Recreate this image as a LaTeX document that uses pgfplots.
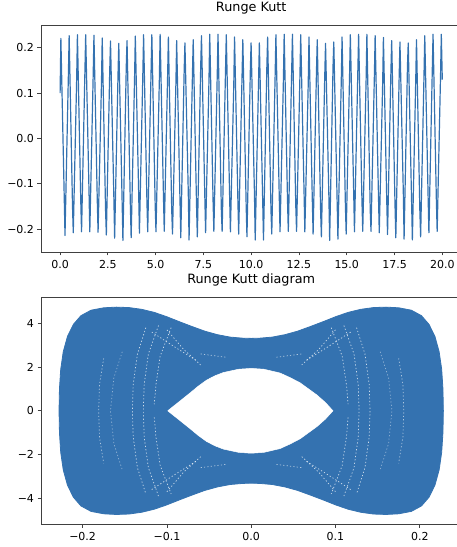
\documentclass[border=0pt]{standalone}
\usepackage{fontspec}
\setmainfont{DejaVu Sans}
\usepackage{pgfplots}
\pgfplotsset{compat=1.18}
\definecolor{mplblue}{RGB}{52,114,176}
\pgfplotsset{
  rk/.style={
    scale only axis,
    width=420.4pt,
    height=227pt,
    anchor=south west,
    axis line style={black!75, line width=0.8pt},
    tick align=outside,
    tick pos=left,
    major tick length=3.5pt,
    tick style={black!75, line width=0.8pt},
    tick label style={font=\fontsize{11}{13}\selectfont},
    xticklabel style={yshift=-1pt},
    title style={font=\fontsize{12.8}{15}\selectfont, inner sep=0pt, yshift=5pt},
  },
  speck/.style={white, line width=0.7pt, opacity=0.75, dash pattern=on 1.2pt off 2.2pt},
}
\begin{document}
\begin{tikzpicture}
\useasboundingbox (0,0) rectangle (457pt,547pt);

% time series
\begin{axis}[rk,
  at={(41pt,295pt)},
  title={Runge Kutt},
  xmin=-1, xmax=21, ymin=-0.2505, ymax=0.2505,
  xtick={0,2.5,5,7.5,10,12.5,15,17.5,20},
  xticklabels={0.0,2.5,5.0,7.5,10.0,12.5,15.0,17.5,20.0},
  ytick={-0.2,-0.1,0,0.1,0.2},
  yticklabels={−0.2,−0.1,0.0,0.1,0.2},
]
\addplot[mplblue, line width=1.2pt, line join=round] coordinates {
(0.000,0.100)
(0.040,0.221) (0.216,-0.13) (0.256,-0.214) (0.433,0.14)
(0.473,0.227) (0.649,-0.15) (0.689,-0.208) (0.866,0.13)
(0.906,0.229) (1.082,-0.14) (1.122,-0.206) (1.299,0.15)
(1.338,0.229) (1.514,-0.12) (1.554,-0.206) (1.731,0.14)
(1.771,0.228) (1.947,-0.14) (1.987,-0.207) (2.164,0.12)
(2.204,0.222) (2.380,-0.16) (2.420,-0.213) (2.597,0.15)
(2.637,0.215) (2.813,-0.13) (2.853,-0.220) (3.030,0.14)
(3.070,0.210) (3.246,-0.14) (3.286,-0.225) (3.463,0.16)
(3.502,0.216) (3.678,-0.15) (3.718,-0.219) (3.895,0.13)
(3.935,0.226) (4.111,-0.12) (4.151,-0.209) (4.328,0.14)
(4.368,0.229) (4.544,-0.14) (4.584,-0.206) (4.761,0.15)
(4.801,0.229) (4.977,-0.15) (5.017,-0.206) (5.194,0.13)
(5.234,0.230) (5.410,-0.13) (5.450,-0.205) (5.627,0.14)
(5.666,0.224) (5.842,-0.16) (5.882,-0.211) (6.059,0.12)
(6.099,0.216) (6.275,-0.14) (6.315,-0.219) (6.492,0.15)
(6.532,0.211) (6.708,-0.12) (6.748,-0.224) (6.925,0.14)
(6.965,0.218) (7.141,-0.15) (7.181,-0.217) (7.358,0.16)
(7.398,0.227) (7.574,-0.13) (7.614,-0.208) (7.791,0.13)
(7.830,0.230) (8.006,-0.14) (8.046,-0.205) (8.223,0.14)
(8.263,0.230) (8.439,-0.16) (8.479,-0.205) (8.656,0.15)
(8.696,0.229) (8.872,-0.13) (8.912,-0.206) (9.089,0.12)
(9.129,0.224) (9.305,-0.14) (9.345,-0.211) (9.522,0.14)
(9.562,0.218) (9.738,-0.15) (9.778,-0.217) (9.955,0.15)
(9.994,0.211) (10.170,-0.12) (10.210,-0.224) (10.387,0.13)
(10.427,0.211) (10.603,-0.14) (10.643,-0.224) (10.820,0.16)
(10.860,0.224) (11.036,-0.16) (11.076,-0.211) (11.253,0.14)
(11.293,0.229) (11.469,-0.13) (11.509,-0.206) (11.686,0.13)
(11.726,0.230) (11.902,-0.14) (11.942,-0.205) (12.119,0.15)
(12.158,0.230) (12.334,-0.15) (12.374,-0.205) (12.551,0.14)
(12.591,0.229) (12.767,-0.12) (12.807,-0.206) (12.984,0.12)
(13.024,0.224) (13.200,-0.14) (13.240,-0.211) (13.417,0.15)
(13.457,0.218) (13.633,-0.16) (13.673,-0.217) (13.850,0.14)
(13.890,0.210) (14.066,-0.13) (14.106,-0.225) (14.283,0.16)
(14.322,0.213) (14.498,-0.14) (14.538,-0.222) (14.715,0.13)
(14.755,0.224) (14.931,-0.15) (14.971,-0.211) (15.148,0.14)
(15.188,0.229) (15.364,-0.12) (15.404,-0.206) (15.581,0.15)
(15.621,0.230) (15.797,-0.14) (15.837,-0.205) (16.014,0.13)
(16.054,0.230) (16.230,-0.16) (16.270,-0.205) (16.447,0.14)
(16.486,0.227) (16.662,-0.13) (16.702,-0.208) (16.879,0.12)
(16.919,0.223) (17.095,-0.14) (17.135,-0.212) (17.312,0.15)
(17.352,0.216) (17.528,-0.15) (17.568,-0.219) (17.745,0.14)
(17.785,0.213) (17.961,-0.12) (18.001,-0.222) (18.178,0.16)
(18.218,0.211) (18.394,-0.14) (18.434,-0.224) (18.611,0.13)
(18.650,0.218) (18.826,-0.16) (18.866,-0.217) (19.043,0.14)
(19.083,0.227) (19.259,-0.13) (19.299,-0.208) (19.476,0.15)
(19.516,0.230) (19.692,-0.14) (19.732,-0.205) (19.909,0.14)
(19.949,0.230) (20.000,0.130)
};
\end{axis}

% phase diagram
\begin{axis}[rk,
  at={(41pt,22.7pt)},
  title={Runge Kutt diagram},
  xmin=-0.2494, xmax=0.2494, ymin=-5.19, ymax=5.19,
  xtick={-0.2,-0.1,0,0.1,0.2},
  xticklabels={−0.2,−0.1,0.0,0.1,0.2},
  ytick={-4,-2,0,2,4},
  yticklabels={−4,−2,0,2,4},
]
% outer envelope of the trajectory
\addplot[mplblue, fill=mplblue, line width=0.8pt, line join=round] coordinates {
(-0.228,0) (-0.2275,1.0) (-0.226,1.9) (-0.223,2.7) (-0.218,3.4) (-0.211,3.95)
(-0.202,4.35) (-0.19,4.6) (-0.175,4.71) (-0.16,4.74) (-0.145,4.72) (-0.13,4.64)
(-0.115,4.5) (-0.1,4.3) (-0.085,4.07) (-0.07,3.85) (-0.055,3.64) (-0.04,3.48)
(-0.025,3.37) (-0.01,3.32) (0,3.31) (0.01,3.32) (0.025,3.37) (0.04,3.48)
(0.055,3.64) (0.07,3.85) (0.085,4.07) (0.1,4.3) (0.115,4.5) (0.13,4.64)
(0.145,4.72) (0.16,4.74) (0.175,4.71) (0.19,4.6) (0.202,4.35) (0.211,3.95)
(0.218,3.4) (0.223,2.7) (0.226,1.9) (0.2275,1.0) (0.228,0)
(0.2275,-1.0) (0.226,-1.9) (0.223,-2.7) (0.218,-3.4) (0.211,-3.95)
(0.202,-4.35) (0.19,-4.6) (0.175,-4.71) (0.16,-4.74) (0.145,-4.72) (0.13,-4.64)
(0.115,-4.5) (0.1,-4.3) (0.085,-4.07) (0.07,-3.85) (0.055,-3.64) (0.04,-3.48)
(0.025,-3.37) (0.01,-3.32) (0,-3.31) (-0.01,-3.32) (-0.025,-3.37) (-0.04,-3.48)
(-0.055,-3.64) (-0.07,-3.85) (-0.085,-4.07) (-0.1,-4.3) (-0.115,-4.5) (-0.13,-4.64)
(-0.145,-4.72) (-0.16,-4.74) (-0.175,-4.71) (-0.19,-4.6) (-0.202,-4.35) (-0.211,-3.95)
(-0.218,-3.4) (-0.223,-2.7) (-0.226,-1.9) (-0.2275,-1.0) (-0.228,0)
};
% inner hole
\addplot[white, fill=white, line width=0.5pt] coordinates {
(-0.099,0) (-0.086,0.4) (-0.073,0.8) (-0.063,1.12) (-0.053,1.4) (-0.043,1.6)
(-0.033,1.75) (-0.015,1.9) (0,1.94) (0.015,1.9) (0.034,1.73) (0.046,1.52)
(0.058,1.28) (0.068,1.0) (0.078,0.72) (0.088,0.38) (0.097,0)
(0.088,-0.38) (0.078,-0.72) (0.068,-1.0) (0.058,-1.28) (0.046,-1.52)
(0.034,-1.73) (0.015,-1.9) (0,-1.94) (-0.015,-1.9) (-0.033,-1.75) (-0.043,-1.6)
(-0.053,-1.4) (-0.063,-1.12) (-0.073,-0.8) (-0.086,-0.4) (-0.099,0)
};
% gaps between the trajectory strands (left lobe)
\addplot[speck, opacity=0.45] coordinates {(-0.153,2.7) (-0.163,1.5) (-0.167,0) (-0.163,-1.5) (-0.153,-2.7)};
\addplot[speck, opacity=0.6] coordinates {(-0.175,2.4) (-0.18,1.2) (-0.181,0) (-0.18,-1.2) (-0.175,-2.4)};
\addplot[speck] coordinates {(-0.125,3.8) (-0.135,2.6) (-0.14,1.2) (-0.141,0) (-0.14,-1.2) (-0.135,-2.6) (-0.125,-3.8)};
\addplot[speck] coordinates {(-0.11,3.9) (-0.122,2.6) (-0.127,1.2) (-0.128,0) (-0.127,-1.2) (-0.122,-2.6) (-0.11,-3.9)};
\addplot[speck] coordinates {(-0.095,3.8) (-0.108,2.5) (-0.113,1.2) (-0.115,0.3)};
\addplot[speck] coordinates {(-0.115,-0.3) (-0.113,-1.2) (-0.108,-2.5) (-0.095,-3.8)};
\addplot[speck] coordinates {(-0.118,3.6) (-0.09,2.9) (-0.065,2.3)};
\addplot[speck] coordinates {(-0.118,-3.6) (-0.09,-2.9) (-0.065,-2.3)};
\addplot[speck] coordinates {(-0.1,3.7) (-0.08,2.8) (-0.06,2.1)};
\addplot[speck] coordinates {(-0.1,-3.7) (-0.08,-2.8) (-0.06,-2.1)};
% gaps between the trajectory strands (right lobe)
\addplot[speck, opacity=0.45] coordinates {(0.153,2.7) (0.163,1.5) (0.167,0) (0.163,-1.5) (0.153,-2.7)};
\addplot[speck, opacity=0.6] coordinates {(0.175,2.4) (0.18,1.2) (0.181,0) (0.18,-1.2) (0.175,-2.4)};
\addplot[speck] coordinates {(0.125,3.8) (0.135,2.6) (0.14,1.2) (0.141,0) (0.14,-1.2) (0.135,-2.6) (0.125,-3.8)};
\addplot[speck] coordinates {(0.11,3.9) (0.122,2.6) (0.127,1.2) (0.128,0) (0.127,-1.2) (0.122,-2.6) (0.11,-3.9)};
\addplot[speck] coordinates {(0.095,3.8) (0.108,2.5) (0.113,1.2) (0.115,0.3)};
\addplot[speck] coordinates {(0.115,-0.3) (0.113,-1.2) (0.108,-2.5) (0.095,-3.8)};
\addplot[speck] coordinates {(0.118,3.6) (0.09,2.9) (0.065,2.3)};
\addplot[speck] coordinates {(0.118,-3.6) (0.09,-2.9) (0.065,-2.3)};
\addplot[speck] coordinates {(0.1,3.7) (0.08,2.8) (0.06,2.1)};
\addplot[speck] coordinates {(0.1,-3.7) (0.08,-2.8) (0.06,-2.1)};
% short gaps above and below the hole
\addplot[speck, opacity=0.6] coordinates {(-0.06,2.6) (-0.03,2.45)};
\addplot[speck, opacity=0.6] coordinates {(0.03,2.45) (0.06,2.6)};
\addplot[speck, opacity=0.6] coordinates {(-0.06,-2.6) (-0.03,-2.45)};
\addplot[speck, opacity=0.6] coordinates {(0.03,-2.45) (0.06,-2.6)};
\end{axis}
\end{tikzpicture}
\end{document}
